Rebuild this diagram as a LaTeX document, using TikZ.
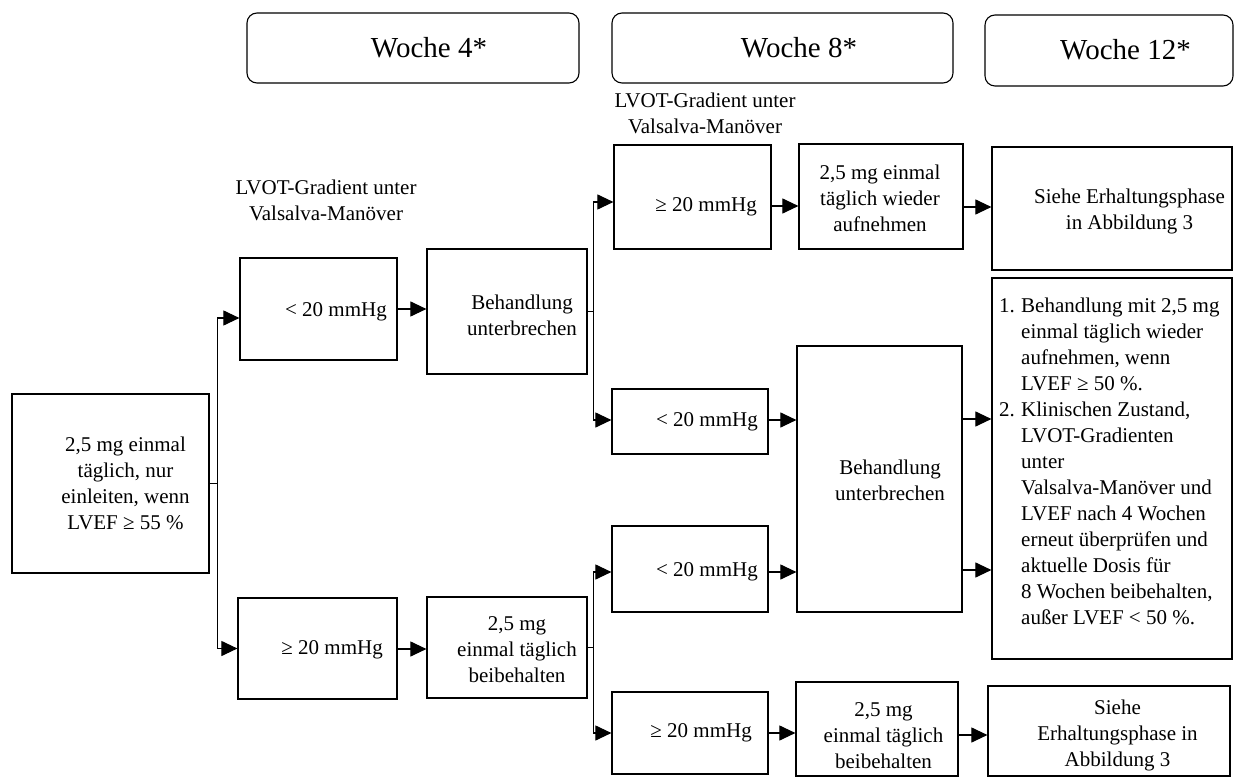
\documentclass[tikz,border=0pt]{standalone}
\usepackage{fontspec}
\setmainfont{Liberation Serif}
\usepackage{tikz}
\usetikzlibrary{arrows.meta}
\tikzstyle{box} = [rectangle, draw=black, line width=1.2pt, inner sep=0pt]
\tikzstyle{header} = [rectangle, rounded corners=10pt, draw=black, line width=1.1pt, inner sep=0pt]
\tikzstyle{txt} = [font=\fontsize{21}{26}\selectfont, align=center, inner sep=0pt]
\tikzstyle{hdrtxt} = [font=\fontsize{29}{34}\selectfont, inner sep=0pt]
\tikzstyle{arrow} = [line width=1.1pt,->,>={Triangle[length=16pt,width=15pt]}]
\newcommand{\itemno}[1]{\makebox[22pt][l]{#1}}
\newcommand{\itemin}{\hspace*{22pt}}

\begin{document}
\begin{tikzpicture}[x=1pt, y=-1pt]
\useasboundingbox (0,0) rectangle (1236,783);

% Kopfzeile - Wochen
\node (hdr1) [header, minimum width=332pt, minimum height=70pt] at (413,48) {};
\node (hdr2) [header, minimum width=341pt, minimum height=70pt] at (782.5,48) {};
\node (hdr3) [header, minimum width=248pt, minimum height=71pt] at (1109,50.5) {};
\node (hdr1t) [hdrtxt] at (429,48) {Woche 4*};
\node (hdr2t) [hdrtxt] at (799,48) {Woche 8*};
\node (hdr3t) [hdrtxt] at (1125.5,50) {Woche 12*};

% Beschriftungen
\node (lvot1) [txt] at (326,200) {LVOT-Gradient unter\\Valsalva-Manöver};
\node (lvot2) [txt] at (705,113) {LVOT-Gradient unter\\Valsalva-Manöver};

% Spalte 1 - Start
\node (start) [box, minimum width=197pt, minimum height=179pt] at (110.5,483.5) {};
\node (startt) [txt] at (125.5,483.5) {2,5 mg einmal\\täglich, nur\\einleiten, wenn\\LVEF ≥ 55 \%};

% Spalte 2 - Woche 4
\node (lt1) [box, minimum width=157pt, minimum height=102pt] at (318.5,309) {};
\node (lt1t) [txt, anchor=east] at (387,312) {< 20 mmHg};
\node (beh1) [box, minimum width=160pt, minimum height=125pt] at (507,311.5) {};
\node (beh1t) [txt] at (522,315) {Behandlung\\unterbrechen};
\node (ge1) [box, minimum width=159pt, minimum height=101pt] at (317.5,648.5) {};
\node (ge1t) [txt, anchor=east] at (383,650) {≥ 20 mmHg};
\node (keep1) [box, minimum width=160pt, minimum height=101pt] at (507,647.5) {};
\node (keep1t) [txt] at (517,650) {2,5 mg\\einmal täglich\\beibehalten};

% Spalte 3 - Woche 8
\node (ge2) [box, minimum width=157pt, minimum height=104pt] at (692.5,197) {};
\node (ge2t) [txt, anchor=east] at (757,207) {≥ 20 mmHg};
\node (auf) [box, minimum width=164pt, minimum height=105pt] at (881,196.5) {};
\node (auft) [txt] at (880,198) {2,5 mg einmal\\täglich wieder\\aufnehmen};
\node (lt2) [box, minimum width=156pt, minimum height=65pt] at (690,421.5) {};
\node (lt2t) [txt, anchor=east] at (758,422) {< 20 mmHg};
\node (beh2) [box, minimum width=165pt, minimum height=266pt] at (879.5,479) {};
\node (beh2t) [txt] at (890,480) {Behandlung\\unterbrechen};
\node (lt3) [box, minimum width=156pt, minimum height=86pt] at (690,569) {};
\node (lt3t) [txt, anchor=east] at (758,572) {< 20 mmHg};
\node (ge3) [box, minimum width=156pt, minimum height=82pt] at (690,733) {};
\node (ge3t) [txt, anchor=east] at (752,733) {≥ 20 mmHg};
\node (keep2) [box, minimum width=162pt, minimum height=94pt] at (877,729) {};
\node (keep2t) [txt] at (883.5,736) {2,5 mg\\einmal täglich\\beibehalten};

% Spalte 4 - Woche 12
\node (siehe1) [box, minimum width=240pt, minimum height=123pt] at (1112,208.5) {};
\node (siehe1t) [txt] at (1129.5,211) {Siehe Erhaltungsphase\\in Abbildung 3};
\node (list) [box, minimum width=240pt, minimum height=381pt] at (1112,468.5) {};
\node (listt) [txt, align=left, anchor=west] at (999,461) {\itemno{1.}Behandlung mit 2,5 mg\\\itemin einmal täglich wieder\\\itemin aufnehmen, wenn\\\itemin LVEF ≥ 50 \%.\\\itemno{2.}Klinischen Zustand,\\\itemin LVOT-Gradienten\\\itemin unter\\\itemin Valsalva-Manöver und\\\itemin LVEF nach 4 Wochen\\\itemin erneut überprüfen und\\\itemin aktuelle Dosis für\\\itemin 8 Wochen beibehalten,\\\itemin außer LVEF < 50 \%.};
\node (siehe2) [box, minimum width=242pt, minimum height=90pt] at (1109,731) {};
\node (siehe2t) [txt] at (1117.5,735) {Siehe\\Erhaltungsphase in\\Abbildung 3};

% Pfeile
\draw [arrow] (start.east) -- ++(8,0) |- (lt1.west |- 0,318);
\draw [arrow] (start.east) -- ++(8,0) |- (ge1.west);
\draw [arrow] (lt1.east) -- (lt1.east -| beh1.west);
\draw [arrow] (ge1.east |- 0,649) -- (keep1.west |- 0,649);
\draw [arrow] (beh1.east) -- ++(6,0) |- (ge2.west |- 0,202);
\draw [arrow] (beh1.east) -- ++(6,0) |- (lt2.west |- 0,420);
\draw [arrow] (keep1.east) -- ++(6,0) |- (lt3.west |- 0,572);
\draw [arrow] (keep1.east) -- ++(6,0) |- (ge3.west |- 0,733);
\draw [arrow] (ge2.east |- 0,206) -- (auf.west |- 0,206);
\draw [arrow] (auf.east |- 0,207) -- (siehe1.west |- 0,207);
\draw [arrow] (lt2.east |- 0,420) -- (beh2.west |- 0,420);
\draw [arrow] (lt3.east |- 0,572) -- (beh2.west |- 0,572);
\draw [arrow] (beh2.east |- 0,419) -- (list.west |- 0,419);
\draw [arrow] (beh2.east |- 0,570) -- (list.west |- 0,570);
\draw [arrow] (ge3.east |- 0,733) -- (keep2.west |- 0,733);
\draw [arrow] (keep2.east |- 0,735) -- (siehe2.west |- 0,735);

\end{tikzpicture}
\end{document}
